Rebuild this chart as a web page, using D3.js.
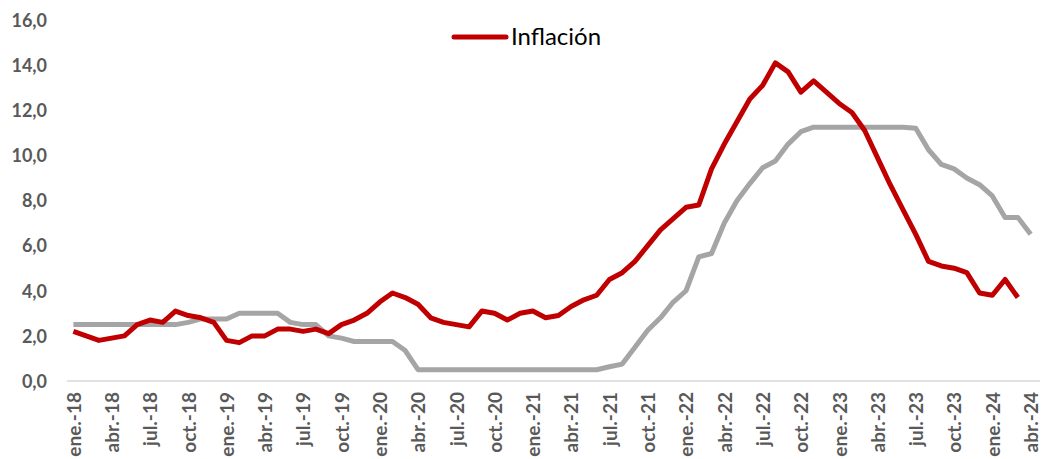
<!DOCTYPE html>
<html>
<head>
<meta charset="utf-8">
<script src="https://cdn.jsdelivr.net/npm/d3@7"></script>
<style>
  body { margin: 0; background: #fff; }
  text { font-family: Lato, "Noto Sans", sans-serif; }
</style>
</head>
<body>
<script>
'use strict';

// months ene.-18 .. abr.-24
const monthAbbr = ['ene.', 'feb.', 'mar.', 'abr.', 'may.', 'jun.', 'jul.', 'ago.', 'sept.', 'oct.', 'nov.', 'dic.']
const years = ['18', '19', '20', '21', '22', '23', '24']
const lastMonthIndex = 3  // abr. of the last year

// tick labels shown on the x axis (every third month)
const tickLabels = [
  'ene.-18', 'abr.-18', 'jul.-18', 'oct.-18',
  'ene.-19', 'abr.-19', 'jul.-19', 'oct.-19',
  'ene.-20', 'abr.-20', 'jul.-20', 'oct.-20',
  'ene.-21', 'abr.-21', 'jul.-21', 'oct.-21',
  'ene.-22', 'abr.-22', 'jul.-22', 'oct.-22',
  'ene.-23', 'abr.-23', 'jul.-23', 'oct.-23',
  'ene.-24', 'abr.-24'
]

const yTicks = [0, 2, 4, 6, 8, 10, 12, 14, 16]

// Inflación (red), ene.-18 .. mar.-24
const inflacion = [
  2.2, 2.0, 1.8, 1.9, 2.0, 2.5, 2.7, 2.6, 3.1, 2.9, 2.8, 2.6,
  1.8, 1.7, 2.0, 2.0, 2.3, 2.3, 2.2, 2.3, 2.1, 2.5, 2.7, 3.0,
  3.5, 3.9, 3.7, 3.4, 2.8, 2.6, 2.5, 2.4, 3.1, 3.0, 2.7, 3.0,
  3.1, 2.8, 2.9, 3.3, 3.6, 3.8, 4.5, 4.8, 5.3, 6.0, 6.7, 7.2,
  7.7, 7.8, 9.4, 10.5, 11.5, 12.5, 13.1, 14.1, 13.7, 12.8, 13.3, 12.8,
  12.3, 11.9, 11.1, 9.9, 8.7, 7.6, 6.5, 5.3, 5.1, 5.0, 4.8, 3.9,
  3.8, 4.5, 3.7
]

// grey series (no legend entry), ene.-18 .. abr.-24
const tasa = [
  2.5, 2.5, 2.5, 2.5, 2.5, 2.5, 2.5, 2.5, 2.5, 2.6, 2.75, 2.75,
  2.75, 3.0, 3.0, 3.0, 3.0, 2.6, 2.5, 2.5, 2.0, 1.9, 1.75, 1.75,
  1.75, 1.75, 1.35, 0.5, 0.5, 0.5, 0.5, 0.5, 0.5, 0.5, 0.5, 0.5,
  0.5, 0.5, 0.5, 0.5, 0.5, 0.5, 0.63, 0.75, 1.5, 2.25, 2.8, 3.5,
  4.0, 5.5, 5.65, 7.0, 8.0, 8.75, 9.45, 9.75, 10.5, 11.05, 11.25, 11.25,
  11.25, 11.25, 11.25, 11.25, 11.25, 11.25, 11.2, 10.25, 9.6, 9.4, 9.0, 8.7,
  8.2, 7.25, 7.25, 6.5
]

const m = {
  width: 1041,
  height: 459,
  left: 67,
  right: 1037,
  top: 20,
  bottom: 381
}

const months = []
years.forEach((yr, yi) => {
  monthAbbr.forEach((mo, mi) => {
    if (yi < years.length - 1 || mi <= lastMonthIndex) months.push(mo + '-' + yr)
  })
})

let svg = d3.select('body')
  .append('svg')
  .attr('width', m.width)
  .attr('height', m.height)

let xScale = d3.scalePoint()
  .domain(months)
  .range([m.left, m.right])
  .padding(0.5)

let yScale = d3.scaleLinear()
  .domain([0, 16])
  .range([m.bottom, m.top])

drawAxes()
drawLine(tasa, '#A5A5A5')
drawLine(inflacion, '#C00000')
drawLegend()


function drawAxes() {
  let yAxis = d3.axisLeft(yScale)
    .tickValues(yTicks)
    .tickSize(0)
    .tickPadding(0)
    .tickFormat((d) => d.toFixed(1).replace('.', ','))

  let gy = svg.append('g')
    .attr('transform', 'translate(47, 0)')
    .call(yAxis)
  gy.select('.domain').remove()
  gy.selectAll('text')
    .attr('x', 0)
    .attr('dy', '0.35em')
    .style('font-size', '18px')
    .style('font-weight', 'bold')
    .style('font-family', 'Lato, sans-serif')
    .style('fill', '#595959')

  let xAxis = d3.axisBottom(xScale)
    .tickValues(tickLabels)
    .tickSize(0)

  let gx = svg.append('g')
    .attr('transform', 'translate(0, ' + m.bottom + ')')
    .call(xAxis)
  gx.select('.domain')
    .attr('d', 'M' + m.left + ',0H1040')
    .style('stroke', '#D9D9D9')
    .style('stroke-width', 1.5)
  gx.selectAll('text')
    .attr('transform', 'rotate(-90)')
    .attr('x', -11)
    .attr('y', 0)
    .attr('dy', '0.36em')
    .style('text-anchor', 'end')
    .style('font-size', '19px')
    .style('font-weight', 'bold')
    .style('font-family', 'Lato, sans-serif')
    .style('fill', '#595959')
}

function drawLine(values, color) {
  let line = d3.line()
    .x((d, i) => xScale(months[i]))
    .y((d) => yScale(d))

  svg.append('path')
    .datum(values)
    .attr('d', line)
    .style('fill', 'none')
    .style('stroke', color)
    .style('stroke-width', 5)
    .style('stroke-linejoin', 'round')
}

function drawLegend() {
  svg.append('line')
    .attr('x1', 454)
    .attr('x2', 506)
    .attr('y1', 37)
    .attr('y2', 37)
    .style('stroke', '#C00000')
    .style('stroke-width', 5)
    .style('stroke-linecap', 'round')

  svg.append('text')
    .attr('x', 511)
    .attr('y', 45)
    .style('font-size', '24px')
    .style('fill', '#000')
    .text('Inflación')
}
</script>
</body>
</html>
